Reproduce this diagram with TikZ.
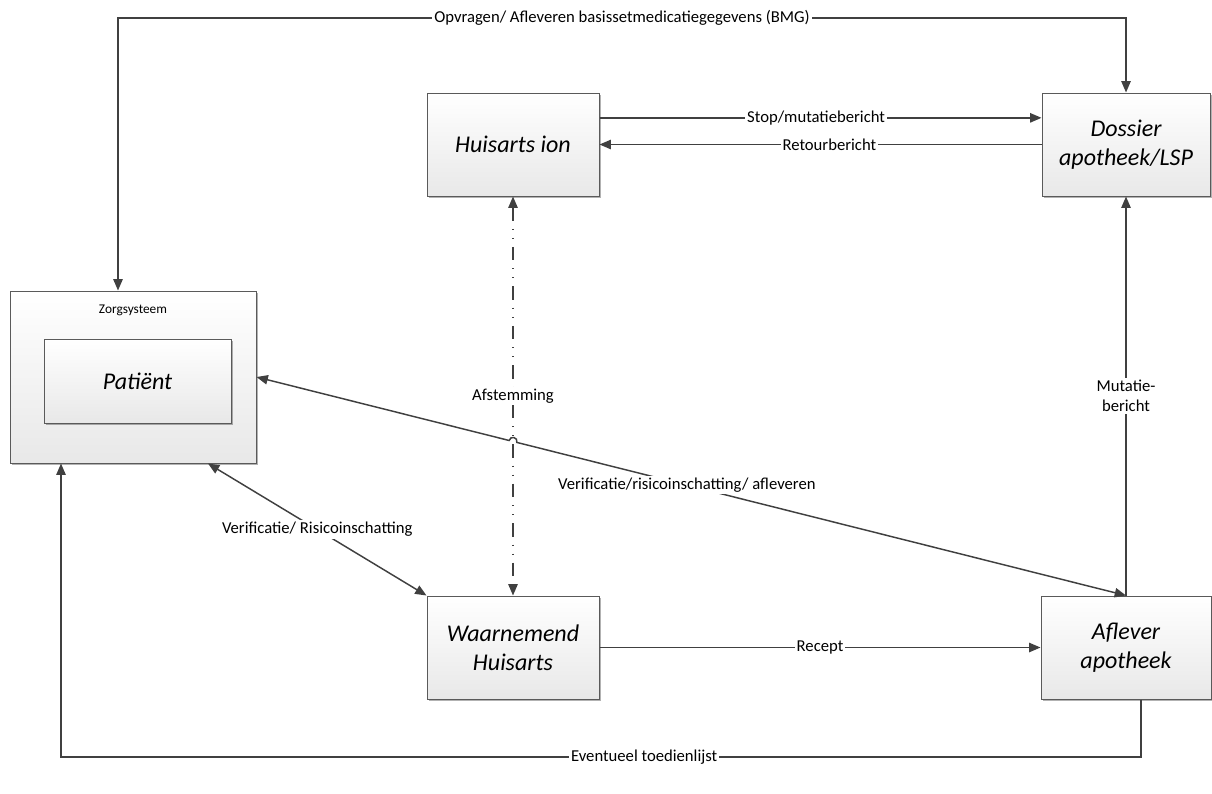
\documentclass[tikz,border=0pt]{standalone}
\usepackage{fontspec}
\setmainfont{Carlito}
\usetikzlibrary{arrows.meta,shadows,calc}
\definecolor{edgecol}{HTML}{404040}
\definecolor{boxline}{HTML}{5A5A5A}
\begin{document}
\begin{tikzpicture}[x=0.75pt,y=-0.75pt,
  >={Triangle[length=8.5pt,width=7pt]},
  box/.style={draw=boxline,line width=0.75pt,top color=white,bottom color=black!9,
    drop shadow={shadow xshift=1.3pt,shadow yshift=-1.3pt,opacity=0.3,fill=black},
    align=center,inner sep=0pt,font=\fontsize{18}{22}\selectfont\itshape},
  conn/.style={draw=edgecol,line width=1.1pt},
  dashdot/.style={conn,dash pattern=on 10pt off 6pt on 0.8pt off 6pt on 0.8pt off 6pt},
  elabel/.style={fill=white,inner sep=1.5pt,font=\fontsize{12.5}{15}\selectfont},
  small/.style={inner sep=0pt,font=\fontsize{10}{12}\selectfont}
]
\useasboundingbox (0,0) rectangle (1212,793);

% boxes
\node[box,minimum width=129pt,minimum height=77.25pt] (huis) at (513,144.5) {Huisarts ion};
\node[box,minimum width=126pt,minimum height=77.25pt] (doss) at (1126,144.5) {Dossier\\apotheek/LSP};
\node[box,minimum width=184.5pt,minimum height=129pt] (zorg) at (133,377) {};
\node[small] (zorglbl) at (133,310) {Zorgsysteem};
\node[box,minimum width=140.25pt,minimum height=63pt] (pat) at (137.5,381) {Patiënt};
\node[box,minimum width=129pt,minimum height=77.25pt] (waar) at (513,647.5) {Waarnemend\\Huisarts};
\node[box,minimum width=127.5pt,minimum height=77.25pt] (aflv) at (1126,647.5) {Aflever\\apotheek};

% corner points of the routed connectors
\coordinate (tl) at (118,18);
\coordinate (tr) at (1126,18);
\coordinate (bl) at (61,757);
\coordinate (br) at (1141,757);

% basisset request / delivery
\draw[conn,<->] (tl |- zorg.north) -- (tl) -- (tr) -- (doss.north);
\path (tl) -- (tr) node[elabel,pos=0.5] {Opvragen/ Afleveren basissetmedicatiegegevens (BMG)};

% huisarts <-> dossier
\draw[conn,->] ([yshift=20pt]huis.east) -- node[elabel,pos=0.49] {Stop/mutatiebericht} ([yshift=20pt]doss.west);
\draw[conn,->] (doss.west) -- node[elabel,pos=0.48] {Retourbericht} (huis.east);

% afstemming
\draw[dashdot,<->] (huis.south) -- (waar.north);
\node[elabel] (afst) at ($(huis.south)!0.5!(waar.north)$) {Afstemming};

% mutatiebericht
\draw[conn,->] (aflv.north) -- node[elabel,align=center,pos=0.5] {Mutatie-\\bericht} (doss.south);

% patient <-> aflever apotheek, hopping over the afstemming line
\coordinate (X) at (intersection of zorg.east--aflv.north and huis.south--waar.north);
\coordinate (h1) at ($(X)!3pt!(zorg.east)$);
\coordinate (h2) at ($(X)!3pt!(aflv.north)$);
\draw[conn,<->] (zorg.east) -- (h1)
  .. controls ($(h1)!4pt!90:(X)$) and ($(h2)!4pt!-90:(X)$) .. (h2) -- (aflv.north);
\path (zorg.east) -- (aflv.north) node[elabel,pos=0.495] {Verificatie/risicoinschatting/ afleveren};

% verificatie zorgsysteem <-> waarnemend
\draw[conn,<->] ([xshift=56.25pt]zorg.south) -- node[elabel,pos=0.5] {Verificatie/ Risicoinschatting} (waar.north west);

% recept
\draw[conn,->] (waar.east) -- node[elabel,pos=0.5] {Recept} (aflv.west);

% toedienlijst
\draw[conn,->] (br |- aflv.south) -- (br) -- (bl) -- (bl |- zorg.south);
\path (br) -- (bl) node[elabel,pos=0.46] {Eventueel toedienlijst};
\end{tikzpicture}
\end{document}
